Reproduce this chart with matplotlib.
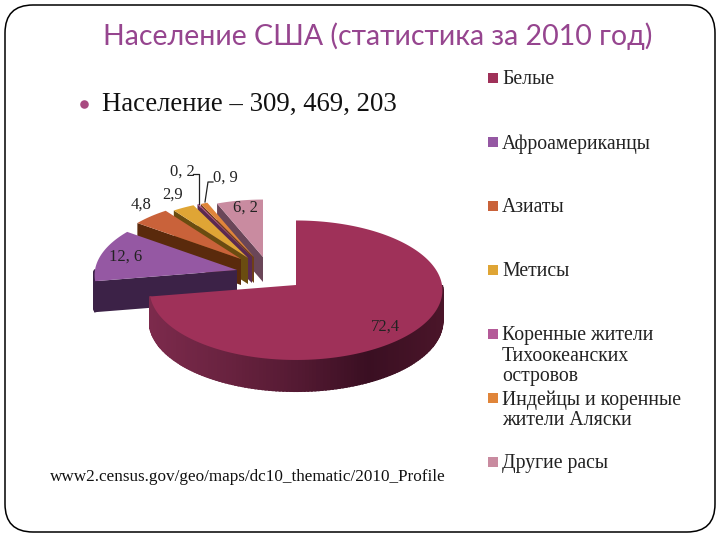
import numpy as np
import matplotlib
matplotlib.use("Agg")
import matplotlib.pyplot as plt
from matplotlib.colors import LinearSegmentedColormap
from matplotlib.patches import FancyBboxPatch

titleText = "Население США (статистика за 2010 год)"
bulletText = "Население – 309, 469, 203"
sourceText = "www2.census.gov/geo/maps/dc10_thematic/2010_Profile"

groups = ["Белые", "Афроамериканцы", "Азиаты", "Метисы",
          "Коренные жители\nТихоокеанских\nостровов",
          "Индейцы и коренные\nжители Аляски", "Другие расы"]
shares = [72.4, 12.6, 4.8, 2.9, 0.2, 0.9, 6.2]
shareLabels = ["72,4", "12, 6", "4,8", "2,9", "0, 2", "0, 9", "6, 2"]
topColors = ["#9f3159", "#9558a3", "#c9623a", "#dfa535", "#b45a98", "#e0853a", "#c98ba0"]
sideColors = ["#5a1a34", "#3c2247", "#5a2a0c", "#6a4c10", "#5a2a50", "#6e3f18", "#6a4658"]

# layout of the exploded 3d pie, in pixels
apexes = [(296, 285), (237, 270), (241, 259), (248, 258), (252, 257), (254, 257), (263, 257)]
radii = [146, 142, 134, 132, 132, 132, 130]
depths = [31, 31, 26, 26, 26, 26, 25]
labelSpots = [(385, 327), (126, 257), (141, 205), (173, 195), (182, 172), (225, 178), (245, 208)]
legendRows = [78, 142, 206, 270, 334, 398, 462]
ELLIPSE_Y = 69.75
PERSPECTIVE = 0.075

mainSide = LinearSegmentedColormap.from_list(
    "mainSide", ["#7c2a4c", "#6a2340", "#551a33", "#3a0f22", "#4a1529"])


def piePoint(apex, radius, theta):
    scale = 1 - PERSPECTIVE * np.sin(theta)
    x = apex[0] + radius * scale * np.cos(theta)
    y = apex[1] - ELLIPSE_Y * radius / 146 * scale * np.sin(theta)
    return np.array([x, y])


def drawSlice(ax, index, startAngle, endAngle):
    apex, radius, depth = apexes[index], radii[index], depths[index]
    thetas = np.radians(np.linspace(startAngle, endAngle, 200))
    rim = np.array([piePoint(apex, radius, t) for t in thetas])

    # side faces first, the top surface goes over them
    for theta, isStart in ((thetas[0], True), (thetas[-1], False)):
        visible = np.cos(theta) < 0 if isStart else np.cos(theta) > 0
        if visible:
            edge = piePoint(apex, radius, theta)
            ax.fill([apex[0], edge[0], edge[0], apex[0]],
                    [apex[1], edge[1], edge[1] + depth, apex[1] + depth],
                    color=sideColors[index], lw=0)
    for i in range(len(rim) - 1):
        # the rim only shows on the near half of the ellipse
        if np.sin(thetas[i]) > 0:
            continue
        if index == 0:
            color = mainSide((rim[i][0] - 150) / 292)
        else:
            color = sideColors[index]
        ax.fill([rim[i][0], rim[i + 1][0], rim[i + 1][0], rim[i][0]],
                [rim[i][1], rim[i + 1][1], rim[i + 1][1] + depth, rim[i][1] + depth],
                color=color, lw=1.5)
    ax.fill([apex[0], *rim[:, 0]], [apex[1], *rim[:, 1]], color=topColors[index], lw=0)


fig = plt.figure(figsize=(7.2, 5.4), dpi=100)
ax = fig.add_axes([0, 0, 1, 1])
ax.set_xlim(0, 720)
ax.set_ylim(540, 0)
ax.axis("off")

ax.add_patch(FancyBboxPatch((33, 33), 654, 471, boxstyle="round,pad=28,rounding_size=28",
                            fc="white", ec="black", lw=1.1))

ax.text(378, 36, titleText, color="#96458f", family="Lato", fontsize=20.5, ha="center", va="center")
ax.scatter([84], [104], s=38, color="#a84a80", lw=0)
ax.text(102, 104, bulletText, family="Liberation Serif", fontsize=19.3, va="center", color="#111111")
ax.text(50, 477, sourceText, family="Liberation Serif", fontsize=12.3, va="center", color="#111111")

# clockwise from 12 o'clock, angles come from the shares
edges = 90 - np.cumsum([0] + shares) * 3.6
for index in [6, 5, 4, 3, 2, 1, 0]:
    drawSlice(ax, index, edges[index], edges[index + 1])

# leader lines for the two thin slices
ax.plot([193, 199, 199], [174, 174, 204], color="#222222", lw=0.9)
ax.plot([213, 208, 205], [182, 182, 202], color="#222222", lw=0.9)

for label, spot in zip(shareLabels, labelSpots):
    ax.text(spot[0], spot[1], label, family="Liberation Serif", fontsize=12,
            ha="center", va="center", color="#222222")

ax.scatter([493] * len(groups), legendRows, marker="s", s=42, c=topColors, lw=0)
for group, row in zip(groups, legendRows):
    ax.text(502, row - 8, group, family="Liberation Serif", fontsize=14.2, va="top",
            linespacing=1.12, color="#222222")

fig.savefig("out.png", dpi=100)
plt.close(fig)
